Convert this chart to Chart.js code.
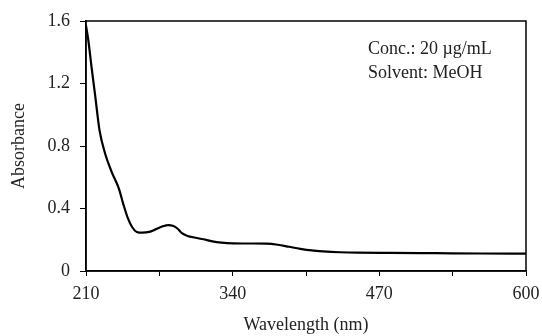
<!DOCTYPE html>
<html>
<head>
<meta charset="utf-8">
<script src="https://cdn.jsdelivr.net/npm/chart.js@4"></script>
<style>
  html, body { margin: 0; padding: 0; background: #fff; }
</style>
</head>
<body>
<canvas id="uv" width="542" height="336"></canvas>
<script>
Chart.defaults.font.family = '"Liberation Serif", "DejaVu Serif", serif';
Chart.defaults.font.size = 18;
Chart.defaults.color = '#222';

// data
const wavelength = [210, 212, 215, 218, 222, 227, 233, 239, 243, 247, 251, 255, 260, 266, 272, 278, 283, 287, 291, 295, 300, 307, 314, 322, 330, 340, 355, 370, 380, 390, 400, 410, 420, 435, 450, 480, 520, 560, 600];
const absorbance = [1.57, 1.48, 1.30, 1.13, 0.90, 0.75, 0.63, 0.53, 0.43, 0.34, 0.28, 0.25, 0.245, 0.25, 0.268, 0.286, 0.294, 0.289, 0.272, 0.242, 0.224, 0.213, 0.203, 0.19, 0.182, 0.177, 0.176, 0.175, 0.168, 0.155, 0.142, 0.132, 0.126, 0.12, 0.117, 0.116, 0.114, 0.112, 0.111];
const xLabels = [210, 340, 470, 600];
const notes = ['Conc.: 20 \u00b5g/mL', 'Solvent: MeOH'];

//frame + text box
const framePlugin = {
    id: 'frame',
    afterDraw(chart) {
        const {ctx, chartArea: a} = chart;
        ctx.save();
        ctx.strokeStyle = '#000';
        ctx.lineWidth = 1.5;
        ctx.strokeRect(a.left, a.top, a.right - a.left, a.bottom - a.top);
        ctx.fillStyle = '#222';
        ctx.font = '18px "Liberation Serif", serif';
        ctx.textBaseline = 'middle';
        notes.forEach((t, i) => ctx.fillText(t, 368, 49 + i * 24));
        ctx.restore();
    }
};

const config = {
    type: 'line',
    data: {
        datasets: [{
            data: wavelength.map((w, i) => ({x: w, y: absorbance[i]})),
            borderColor: '#000',
            borderWidth: 2.2,
            pointRadius: 0,
            cubicInterpolationMode: 'monotone',
            fill: false
        }]
    },
    options: {
        responsive: false,
        animation: false,
        layout: {padding: {top: 21, right: 16, left: 0, bottom: 0}},
        plugins: {legend: {display: false}, tooltip: {enabled: false}},
        scales: {
            x: {
                type: 'linear',
                min: 210,
                max: 600,
                afterFit(s) { s.height = 65; s.paddingLeft = 0; s.paddingRight = 0; },
                afterBuildTicks(s) {
                    s.ticks = [];
                    for (let v = 210; v <= 600; v += 65) s.ticks.push({value: v});
                },
                ticks: {
                    autoSkip: false,
                    maxRotation: 0,
                    padding: 7,
                    callback: v => xLabels.includes(v) ? String(v) : ''
                },
                grid: {drawOnChartArea: false, color: '#000', tickLength: 5},
                border: {color: '#000', width: 1.5},
                title: {display: true, text: 'Wavelength (nm)', padding: {top: 8, bottom: 0}}
            },
            y: {
                min: 0,
                max: 1.6,
                afterFit(s) { s.width = 86; s.paddingTop = 0; s.paddingBottom = 0; },
                ticks: {
                    stepSize: 0.4,
                    padding: 10,
                    callback: v => v === 0 ? '0' : v.toFixed(1)
                },
                grid: {drawOnChartArea: false, color: '#000', tickLength: 6},
                border: {color: '#000', width: 1.5},
                title: {display: true, text: 'Absorbance', padding: {top: 8, bottom: 0}}
            }
        }
    },
    plugins: [framePlugin]
};

const uv = new Chart(document.getElementById('uv'), config);
</script>
</body>
</html>
